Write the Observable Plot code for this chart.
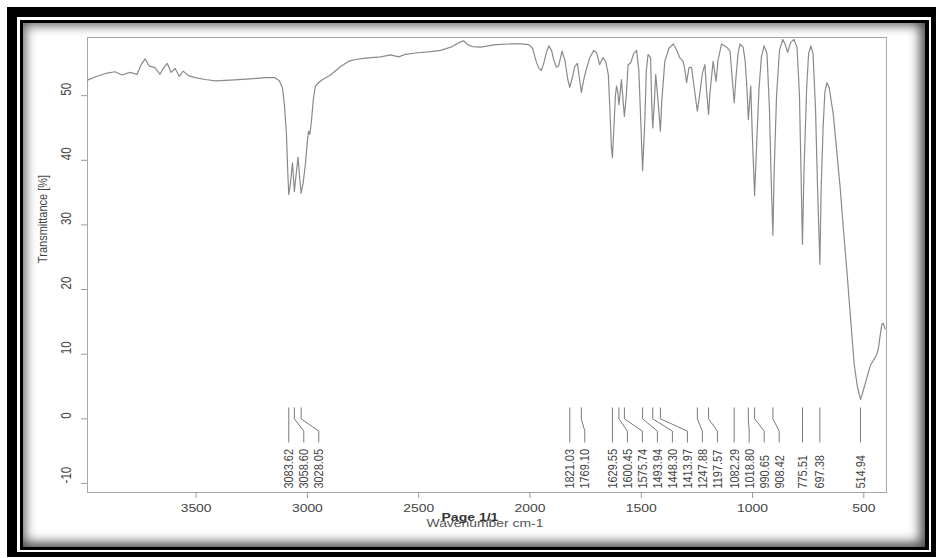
<!DOCTYPE html>
<html>
<head>
<meta charset="utf-8">
<script src="https://cdn.jsdelivr.net/npm/d3@7"></script>
<script src="https://cdn.jsdelivr.net/npm/@observablehq/plot@0.6"></script>
<style>
  html, body { margin: 0; padding: 0; background: #fff; }
  #wrap { position: relative; width: 936px; height: 558px; overflow: hidden; background: #fff; }
  .blk { position: absolute; }
  #chart { position: absolute; left: 0; top: 0; }
  #chart svg { background: transparent; }
</style>
</head>
<body>
<div id="wrap">
  <div class="blk" style="left:7px;top:7px;width:929px;height:550px;background:#000"></div>
  <div class="blk" style="left:17px;top:17px;width:914px;height:535px;background:#fff"></div>
  <div class="blk" style="left:20px;top:20px;width:909px;height:530px;background:#000"></div>
  <div class="blk" style="left:23px;top:23px;width:902px;height:524px;background:#fff;box-shadow: inset 0 0 11px 3px rgba(0,0,0,0.55), inset -6px -5px 12px rgba(0,0,0,0.35);"></div>
  <div id="chart"></div>
</div>
<script>
// ---- data ----
const wavenumber = [
  3988, 3945, 3900, 3864, 3833, 3797, 3765, 3747, 3729, 3711, 3684, 3662, 3648, 3630, 3612, 3594, 3576, 3558, 3535, 3504,
  3459, 3414, 3346, 3256, 3189, 3148, 3126, 3112, 3103, 3094, 3088, 3083.62, 3076, 3067, 3062, 3058.6, 3050, 3042, 3034, 3028.05,
  3019, 3009, 3000, 2995, 2989, 2982, 2973, 2964, 2950, 2932, 2896, 2851, 2815, 2784, 2739, 2671, 2626, 2590, 2559, 2514,
  2446, 2401, 2356, 2320, 2298, 2280, 2258, 2222, 2154, 2087, 2041, 2005,
  1988, 1974, 1961, 1949, 1938, 1925, 1915, 1903, 1893, 1881, 1871, 1856, 1843, 1830, 1821.03, 1808, 1799, 1787, 1779, 1769.1,
  1758, 1749, 1732, 1714, 1700, 1687, 1672, 1659, 1648, 1641, 1634, 1629.55, 1623, 1616, 1611, 1605, 1600.45, 1596, 1589, 1581,
  1575.74, 1567, 1559, 1547, 1534, 1521, 1511, 1502, 1493.94, 1484, 1477, 1469, 1458, 1453, 1448.3, 1441, 1435, 1424, 1413.97, 1408,
  1394, 1376, 1356, 1340, 1327, 1312, 1304, 1296, 1286, 1274, 1263, 1247.88, 1236, 1225, 1214, 1207, 1197.57, 1191, 1177, 1164,
  1155, 1139, 1116, 1101, 1092, 1082.29, 1074, 1065, 1056, 1042, 1033, 1024, 1018.8, 1013, 1008, 1002, 990.65, 982, 971, 960,
  948, 935, 924, 917, 908.42, 903, 892, 879, 864, 854, 842, 829, 814, 800, 789, 782, 775.51, 769, 757, 748,
  738, 728, 717, 708, 697.38, 692, 683, 675, 666, 656, 637, 606, 591, 576, 561, 543, 529, 514.94, 507, 494,
  471, 441, 434, 426, 419, 413, 404
];
const transmittance = [
  52.4, 53.0, 53.5, 53.7, 53.2, 53.6, 53.3, 54.8, 55.7, 54.6, 54.3, 53.3, 54.2, 55.0, 53.6, 54.2, 53.0, 53.8, 53.1, 52.8,
  52.5, 52.3, 52.4, 52.6, 52.8, 52.8, 52.3, 51.2, 48.5, 44.0, 38.0, 34.7, 36.5, 39.6, 37.0, 35.2, 38.0, 40.5, 37.0, 34.9,
  36.5, 39.4, 43.0, 44.5, 44.0, 46.0, 49.5, 51.5, 52.0, 52.5, 53.2, 54.5, 55.3, 55.6, 55.8, 56.0, 56.3, 56.0, 56.4, 56.6,
  56.8, 57.0, 57.5, 58.2, 58.5, 57.9, 57.6, 57.5, 57.9, 58.0, 58.0, 57.9,
  57.3, 55.5, 54.3, 53.9, 55.0, 56.8, 57.7, 57.0, 55.5, 54.4, 54.6, 56.9, 55.5, 52.5, 51.3, 53.0, 54.5, 55.0, 53.0, 50.5,
  52.5, 53.8, 55.8, 57.0, 56.6, 54.8, 55.9, 55.2, 53.3, 48.0, 42.0, 40.4, 45.0, 50.0, 51.5, 50.5, 48.6, 50.0, 52.5, 49.0,
  46.8, 50.0, 54.8, 55.1, 56.5, 57.0, 54.0, 46.0, 38.4, 46.0, 54.0, 56.4, 55.9, 49.0, 45.0, 49.0, 53.3, 49.0, 44.5, 49.0,
  55.3, 57.3, 58.0, 57.0, 55.9, 55.3, 54.0, 52.0, 54.3, 54.4, 51.5, 47.6, 50.5, 53.5, 54.8, 51.0, 47.1, 50.5, 55.3, 52.2,
  55.5, 58.0, 57.5, 56.9, 53.0, 48.9, 53.0, 56.5, 58.0, 57.5, 55.3, 50.5, 46.3, 49.0, 51.5, 45.0, 34.5, 42.0, 51.0, 56.0,
  57.7, 56.5, 48.0, 38.0, 28.4, 38.0, 50.0, 57.0, 58.7, 58.0, 56.7, 58.2, 58.7, 57.5, 50.0, 38.0, 27.0, 38.0, 51.0, 56.5,
  57.7, 56.5, 48.0, 36.0, 23.9, 35.0, 45.0, 50.5, 52.0, 51.3, 47.1, 35.7, 29.1, 22.9, 16.2, 8.4, 5.0, 3.0, 3.8, 5.4,
  8.2, 10.0, 11.0, 13.0, 14.6, 14.8, 13.9
];
const peakWavenumbers = [3083.62, 3058.60, 3028.05, 1821.03, 1769.10, 1629.55, 1600.45, 1575.74, 1493.94, 1448.30,
  1413.97, 1247.88, 1197.57, 1082.29, 1018.80, 990.65, 908.42, 775.51, 697.38, 514.94];
const xTicks = [3500, 3000, 2500, 2000, 1500, 1000, 500];
const yTicks = [-10, 0, 10, 20, 30, 40, 50];
const xTitle = "Wavenumber cm-1";
const yTitle = "Transmittance [%]";
const pageText = "Page 1/1";

// ---- layout ----
const W = 936, H = 558;
const mL = 87, mR = 50, mT = 37, mB = 66;
const xDomain = [3988, 398];
const yDomain = [-11.4, 59.0];
const font = "'Liberation Sans', Arial, Helvetica, sans-serif";

const spectrum = wavenumber.map((w, i) => ({w, t: transmittance[i]}));

// label repel (in pixel space via Plot's own x scale)
const sx = Plot.scale({x: {domain: xDomain, range: [mL, W - mR]}});
const gap = 15;
let prev = -Infinity;
const labels = [];
const leaders = [];
peakWavenumbers.slice().sort((a, b) => b - a).forEach((p, i) => {
  const px = sx.apply(p);
  const lx = Math.max(px, prev + gap);
  prev = lx;
  const lw = sx.invert(lx);
  labels.push({p, lw});
  leaders.push({g: i, w: p, t: 1.7});
  leaders.push({g: i, w: p, t: 0.0});
  leaders.push({g: i, w: lw, t: -1.9});
  leaders.push({g: i, w: lw, t: -3.6});
});

const plot = Plot.plot({
  width: W, height: H,
  marginLeft: mL, marginRight: mR, marginTop: mT, marginBottom: mB,
  style: {fontFamily: font, background: "transparent", overflow: "visible"},
  x: {domain: xDomain},
  y: {domain: yDomain},
  marks: [
    Plot.frame({stroke: "#a8a8a8", strokeWidth: 1}),
    Plot.axisX({ticks: xTicks, tickSize: 6, tickPadding: 5, fontSize: 11.6, stroke: "#999", fill: "#444", label: null, tickFormat: d => String(d)}),
    Plot.axisY({ticks: yTicks, tickSize: 6, tickFormat: () => "", label: null, stroke: "#999"}),
    Plot.text(yTicks, {y: d => d, text: d => String(d), frameAnchor: "left", dx: -21, rotate: -90, fontSize: 11.6, fill: "#444"}),
    Plot.text([yTitle], {frameAnchor: "left", dx: -45, dy: -2, rotate: -90, fontSize: 11, fill: "#444"}),
    Plot.text([xTitle], {frameAnchor: "bottom", dx: -2, dy: 34, fontSize: 11.6, fill: "#555"}),
    Plot.text([pageText], {frameAnchor: "bottom", dx: -17, dy: 28, fontSize: 11.7, fontWeight: "bold", fill: "#333"}),
    Plot.line(leaders, {x: "w", y: "t", z: "g", stroke: "#7a7a7a", strokeWidth: 1}),
    Plot.text(labels, {x: "lw", y: -10.8, text: d => d.p.toFixed(2), rotate: -90, textAnchor: "start", fontSize: 11, fill: "#444"}),
    Plot.line(spectrum, {x: "w", y: "t", stroke: "#8a8a8a", strokeWidth: 1.2})
  ]
});

document.getElementById("chart").appendChild(plot);

// widen text glyphs horizontally (the reference image is stretched ~1.2x in x),
// scaling each text about its own horizontal centre so positions are kept.
try {
  const texts = Array.from(plot.querySelectorAll("text"));
  texts.forEach(el => {
    if (!el.textContent) return;
    const r = el.getBoundingClientRect();
    if (!r.width) return;
    const parent = el.parentNode;
    const m = parent.getScreenCTM();
    if (!m) return;
    const pt = plot.createSVGPoint();
    pt.x = r.left + r.width / 2; pt.y = r.top + r.height / 2;
    const lp = pt.matrixTransform(m.inverse());
    const g = document.createElementNS("http://www.w3.org/2000/svg", "g");
    g.setAttribute("transform", `translate(${lp.x},0) scale(1.2,1) translate(${-lp.x},0)`);
    parent.insertBefore(g, el);
    g.appendChild(el);
  });
} catch (e) { /* keep unstretched text */ }
</script>
</body>
</html>
